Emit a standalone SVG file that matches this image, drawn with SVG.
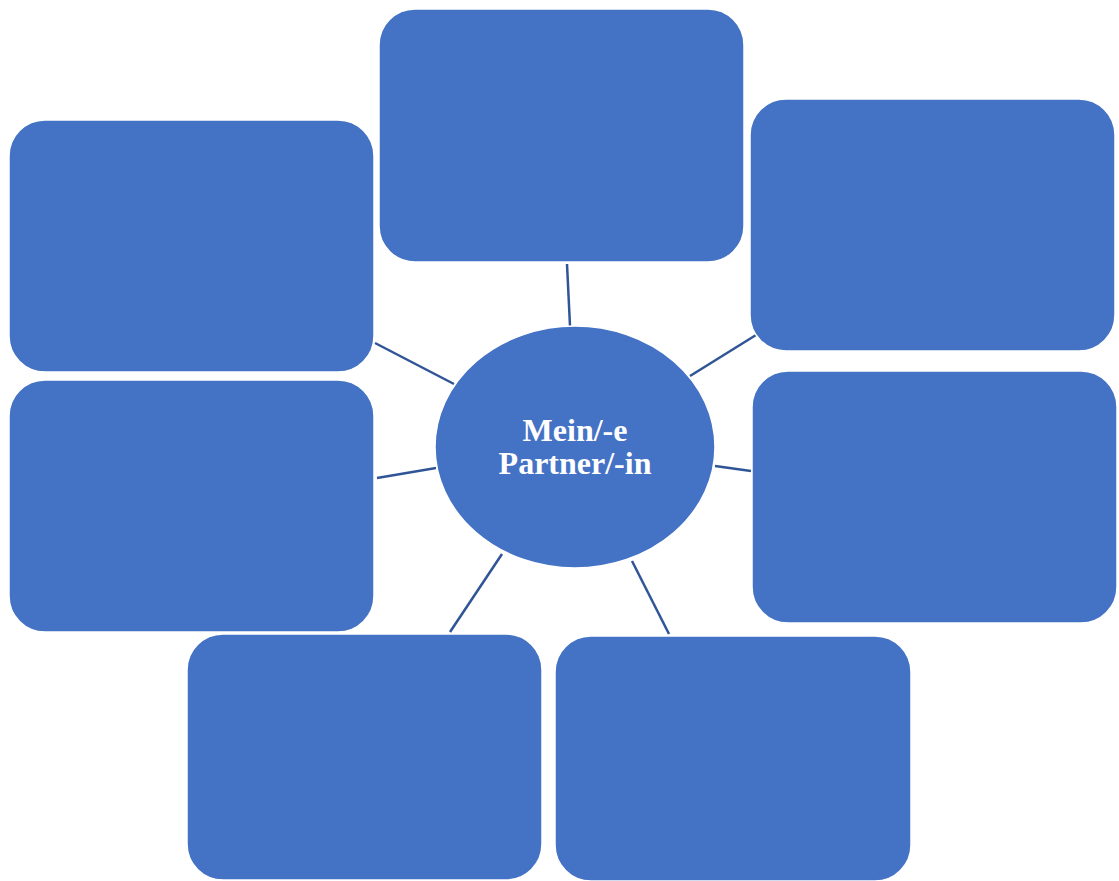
<svg xmlns="http://www.w3.org/2000/svg" width="1119" height="881" viewBox="0 0 1119 881">
<style>
.box{fill:#4472C4;stroke:#ffffff;stroke-width:1.5}
.con{stroke:#2F5597;stroke-width:2.5;fill:none}
.lbl{font-family:"Liberation Serif","Times New Roman",serif;font-weight:bold;font-size:32px;fill:#ffffff;text-anchor:middle}
</style>
<rect width="1119" height="881" fill="#ffffff"/>
<g id="connectors">
<line class="con" x1="567" y1="264" x2="570" y2="326"/>
<line class="con" x1="375" y1="343" x2="454" y2="384"/>
<line class="con" x1="756" y1="335" x2="690" y2="376"/>
<line class="con" x1="377" y1="478" x2="436" y2="468"/>
<line class="con" x1="715" y1="466" x2="751" y2="471"/>
<line class="con" x1="502" y1="554" x2="450" y2="632"/>
<line class="con" x1="632" y1="561" x2="669" y2="634"/>
</g>
<g id="box-top"><rect class="box" x="379" y="9" width="365" height="253" rx="36"/></g>
<g id="box-top-left"><rect class="box" x="9" y="120" width="365" height="252" rx="36"/></g>
<g id="box-top-right"><rect class="box" x="750" y="99" width="365" height="252" rx="36"/></g>
<g id="box-mid-left"><rect class="box" x="9" y="380" width="365" height="252" rx="36"/></g>
<g id="box-mid-right"><rect class="box" x="752" y="371" width="365" height="252" rx="36"/></g>
<g id="box-bottom-left"><rect class="box" x="187" y="634" width="355" height="246" rx="36"/></g>
<g id="box-bottom-right"><rect class="box" x="555" y="636" width="356" height="245" rx="36"/></g>
<g id="center">
<ellipse class="box" cx="575" cy="447" rx="140" ry="121"/>
<text class="lbl" x="575" y="441">Mein/-e</text>
<text class="lbl" x="575" y="474">Partner/-in</text>
</g>
</svg>
